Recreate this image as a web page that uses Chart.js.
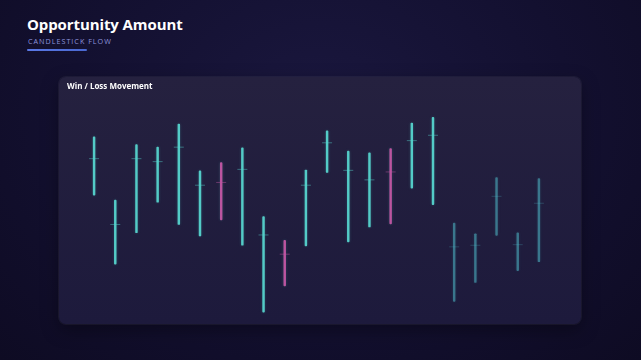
<!DOCTYPE html>
<html>
<head>
<meta charset="utf-8">
<title>Opportunity Amount</title>
<script src="https://cdn.jsdelivr.net/npm/chart.js@4"></script>
<style>
  html, body { margin: 0; padding: 0; }
  body {
    width: 641px; height: 360px; overflow: hidden; position: relative;
    font-family: "Open Sans", "Noto Sans", sans-serif;
    background: radial-gradient(ellipse at 50% 30%, #1a173e 0%, #131030 55%, #0e0b23 100%);
  }
  .title {
    position: absolute; left: 27px; top: 14px;
    color: #ffffff; font-size: 15px; font-weight: 700; letter-spacing: -0.1px;
  }
  .subtitle {
    position: absolute; left: 28px; top: 36px;
    color: #8d93dc; font-size: 7.2px; letter-spacing: 1px;
  }
  .underline {
    position: absolute; left: 27px; top: 49px; width: 60px; height: 2px;
    background: linear-gradient(90deg, #5a78e6, #4a68d0);
    border-radius: 1px;
  }
  .card {
    position: absolute; left: 59px; top: 77px; width: 522px; height: 247px;
    border-radius: 7px;
    background: linear-gradient(180deg, #25213f 0%, #1d1a3c 100%);
    box-shadow: 0 0 0 1px rgba(255,255,255,0.05), 0 6px 18px rgba(0,0,0,0.35);
  }
  .card-title {
    position: absolute; left: 8px; top: 3px;
    color: #ffffff; font-size: 8px; font-weight: 700;
  }
  .chart-box { position: absolute; left: 0; top: 0; width: 522px; height: 247px; }
</style>
</head>
<body>
<div class="title">Opportunity Amount</div>
<div class="subtitle">CANDLESTICK FLOW</div>
<div class="underline"></div>
<div class="card">
  <div class="chart-box"><canvas id="flowChart"></canvas></div>
  <div class="card-title">Win / Loss Movement</div>
</div>

<script>
/*===================================================================
   Data (amounts in $K)
==================================================================*/
const periods = ['Wk 1','Wk 2','Wk 3','Wk 4','Wk 5','Wk 6','Wk 7','Wk 8','Wk 9','Wk 10','Wk 11',
                 'Wk 12','Wk 13','Wk 14','Wk 15','Wk 16','Wk 17','Wk 18','Wk 19','Wk 20','Wk 21','Wk 22']
const highs  = [91.4, 59.5, 87.5, 86.2, 97.9, 74.2, 78.4, 85.9, 51.2, 39.2, 74.7,
                94.5, 84.2, 83.4, 85.5, 98.4, 101.2, 47.9, 42.5, 70.9, 43.0, 70.4]
const lows   = [62.0, 27.2, 43.0, 58.4, 47.2, 41.4, 49.5, 36.7, 3.0, 16.2, 36.4,
                73.4, 38.4, 45.9, 47.5, 65.5, 57.2, 8.4, 17.9, 41.7, 23.9, 28.4]
const closes = [80.4, 47.2, 80.4, 78.9, 86.2, 67.0, 68.4, 75.0, 41.9, 32.2, 67.0,
                88.4, 74.5, 69.7, 73.7, 89.5, 92.2, 35.9, 36.7, 61.4, 37.0, 57.9]
const outcomes = ['win','win','win','win','win','win','loss','win','win','loss','win',
                  'win','win','win','loss','win','win','proj','proj','proj','proj','proj']

/*===================================================================
   Colours
==================================================================*/
const colorFor = (o, alpha) => {
  if (o === 'loss') return `rgba(196, 86, 164, ${alpha})`
  if (o === 'proj') return `rgba(80, 190, 206, ${alpha * 0.55})`
  return `rgba(86, 212, 206, ${alpha})`
}
const wickColors = outcomes.map(o => colorFor(o, 0.95))
const tickColors = outcomes.map(o => colorFor(o, 0.45))

// soft glow around the wicks
const glowPlugin = {
  id: 'glow',
  beforeDatasetDraw(chart, args) {
    if (args.index !== 0) return
    const ctx = chart.ctx
    ctx.save()
    ctx.shadowColor = 'rgba(86, 212, 206, 0.25)'
    ctx.shadowBlur = 3
  },
  afterDatasetDraw(chart, args) {
    if (args.index !== 0) return
    chart.ctx.restore()
  }
}

/*===================================================================
   Chart
==================================================================*/
const ctx = document.getElementById('flowChart').getContext('2d')
const flowChart = new Chart(ctx, {
  type: 'bar',
  data: {
    labels: periods,
    datasets: [{
      label: 'Range',
      data: periods.map((p, i) => [lows[i], highs[i]]),
      backgroundColor: wickColors,
      borderWidth: 0,
      borderRadius: 1,
      borderSkipped: false,
      barThickness: 1.8,
      order: 2
    }, {
      type: 'line',
      label: 'Close',
      data: closes,
      showLine: false,
      pointStyle: 'line',
      pointRadius: 5,
      pointHoverRadius: 5,
      pointBorderWidth: 1,
      pointBorderColor: tickColors,
      pointBackgroundColor: tickColors,
      order: 1
    }]
  },
  options: {
    responsive: true,
    maintainAspectRatio: false,
    animation: false,
    layout: { padding: { left: 24.5, right: 31.5, top: 23, bottom: 4 } },
    plugins: {
      legend: { display: false },
      tooltip: { enabled: true }
    },
    scales: {
      x: { display: false, offset: true, grid: { display: false } },
      y: { display: false, min: 0, max: 110, grid: { display: false } }
    }
  },
  plugins: [glowPlugin]
})
</script>
</body>
</html>
